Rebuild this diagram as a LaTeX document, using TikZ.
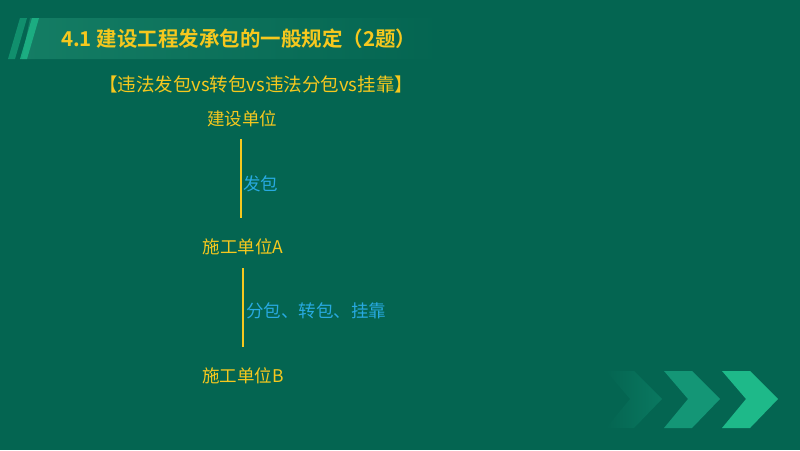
\documentclass[tikz,border=0pt]{standalone}
\usepackage{fontspec}
\setmainfont{Noto Sans CJK SC}
\newfontfamily\cjk{Noto Sans CJK SC}
\newfontfamily\cjkb{Noto Sans CJK SC Bold}
\begin{document}
\begin{tikzpicture}[x=1pt,y=-1pt,
  yel/.style={text=tyellow,font=\cjk\fontsize{17.5}{18}\selectfont,inner sep=0pt},
  blu/.style={text=tblue,font=\cjk\fontsize{17.5}{18}\selectfont,inner sep=0pt,anchor=west},
  vline/.style={draw=tyellow,line width=2pt}]
\definecolor{bg}{RGB}{4,101,81}
\definecolor{tyellow}{RGB}{246,200,30}
\definecolor{tblue}{RGB}{40,170,225}
\definecolor{band}{RGB}{20,125,100}
\definecolor{chevA}{RGB}{30,185,137}
\definecolor{chevB}{RGB}{20,150,118}
\definecolor{chevC}{RGB}{10,120,96}
\definecolor{arc}{RGB}{14,112,92}
\fill[bg] (0,0) rectangle (800,450);
\useasboundingbox (0,0) rectangle (800,450);
% background arcs
\begin{scope}
\clip (0,0) rectangle (800,450);
\foreach \r/\w in {560/30,620/18,680/40,740/22} {
  \draw[arc,line width=\w pt,opacity=0.45] (80,620) ++(20:\r) arc (20:85:\r);
}
\end{scope}
% title band
\shade[left color=band,right color=bg,shading angle=90] (30,18) -- (440,18) -- (440,59) -- (22,59) -- cycle;
\fill[chevA,opacity=0.5] (20,18) -- (27,18) -- (15,59) -- (8,59) -- cycle;
\fill[chevA,opacity=0.8] (32,18) -- (39,18) -- (27,59) -- (20,59) -- cycle;
\node[anchor=west,text=tyellow,font=\cjkb\fontsize{20.5}{21}\selectfont,inner sep=0pt] (title) at (61,39) {4.1 建设工程发承包的一般规定（2题）};
\node[anchor=west,text=tyellow,font=\cjk\fontsize{18.5}{19}\selectfont,inner sep=0pt] (sub) at (99,84) {【违法发包vs转包vs违法分包vs挂靠】};
% nodes
\node[yel] (js) at (242,119) {建设单位};
\node[yel] (sa) at (243,247) {施工单位A};
\node[yel] (sb) at (243,376) {施工单位B};
\coordinate (l1a) at (241,139);
\coordinate (l1b) at (241,218);
\coordinate (l2a) at (243,268);
\coordinate (l2b) at (243,347);
\draw[vline] (l1a) -- (l1b);
\draw[vline] (l2a) -- (l2b);
\node[blu] (fb) at (243,184) {发包};
\node[blu] (zb) at (246,311) {分包、转包、挂靠};
% chevrons
\fill[chevA] (722,371) -- (750,371) -- (778,399) -- (750,428) -- (722,428) -- (746,399) -- cycle;
\fill[chevB] (664,371) -- (692,371) -- (720,399) -- (692,428) -- (664,428) -- (688,399) -- cycle;
\shade[left color=bg,right color=chevC] (606,371) -- (634,371) -- (662,399) -- (634,428) -- (606,428) -- (630,399) -- cycle;
\end{tikzpicture}
\end{document}
